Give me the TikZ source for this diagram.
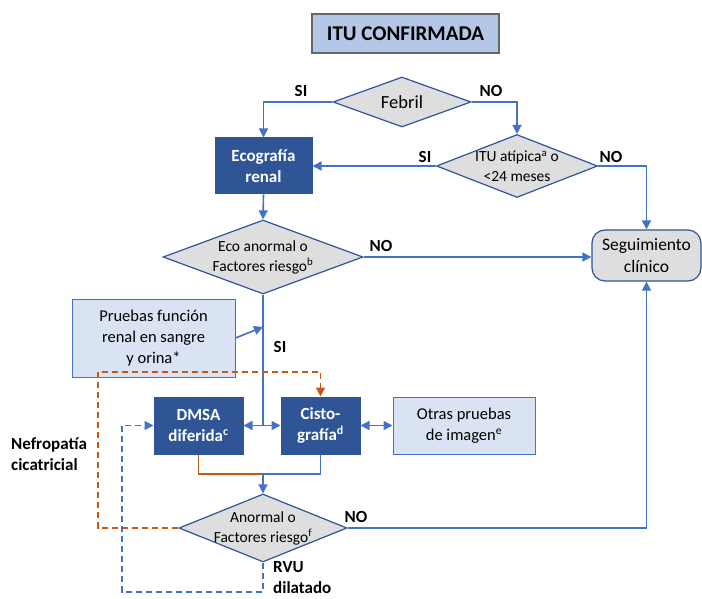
\documentclass[tikz,border=0pt]{standalone}
\usepackage{fontspec}
\setmainfont{Carlito}
\usetikzlibrary{arrows.meta,shapes.geometric}
\definecolor{dblue}{HTML}{2F5597}
\definecolor{lblue}{HTML}{4472C4}
\definecolor{pale}{HTML}{DAE3F3}
\definecolor{tfill}{HTML}{B4C7E7}
\definecolor{dgray}{HTML}{DEDEDE}
\definecolor{orng}{HTML}{C55A11}
\tikzset{
  x=1pt,y=-1pt,
  darkbox/.style={draw=dblue,fill=dblue,text=white,font=\fontsize{17}{21}\selectfont\bfseries,align=center,inner sep=0pt,line width=1pt},
  palebox/.style={draw=lblue,fill=pale,font=\fontsize{16.5}{21}\selectfont,align=center,inner sep=0pt,line width=1pt},
  dia/.style={shape=diamond,draw=dblue,fill=dgray,line width=1.2pt,inner sep=0pt},
  dtext/.style={font=\fontsize{15.5}{20}\selectfont,align=center,inner sep=0pt},
  lab/.style={font=\fontsize{17}{21}\selectfont\bfseries,inner sep=0pt},
  conn/.style={draw=lblue,line width=1.6pt},
  arr/.style={conn,-{Triangle[length=9pt,width=9pt]}},
  darr/.style={conn,{Triangle[length=9pt,width=9pt]}-{Triangle[length=9pt,width=9pt]}},
  odash/.style={draw=orng,line width=1.5pt,dash pattern=on 6pt off 4pt},
  bdash/.style={draw=lblue,line width=1.5pt,dash pattern=on 6pt off 4pt},
}
\begin{document}
\begin{tikzpicture}
\useasboundingbox (0,0) rectangle (702,599);
\fill[white] (0,0) rectangle (702,599);
% nodes
\node[draw=gray!80!black,fill=tfill,line width=1.2pt,minimum width=187pt,minimum height=39pt,inner sep=0pt,font=\fontsize{21}{24}\selectfont\bfseries] (title) at (405.5,33.5) {ITU CONFIRMADA};
\node[dia,minimum width=138pt,minimum height=50pt] (feb) at (402,102) {};
\node[font=\fontsize{18.5}{22}\selectfont,inner sep=0pt] at (feb) {Febril};
\node[darkbox,minimum width=97pt,minimum height=56pt] (eco) at (263.5,166) {Ecografía\\renal};
\node[dia,minimum width=161pt,minimum height=63pt] (itu) at (517,166) {};
\node[dtext] at (itu) {ITU atípica\textsuperscript{a} o\\<24 meses};
\node[draw=dblue,fill=dgray,rounded corners=13pt,line width=1.2pt,minimum width=109pt,minimum height=51pt,inner sep=0pt,align=center,font=\fontsize{17.5}{22}\selectfont] (seg) at (646.5,255.5) {Seguimiento\\clínico};
\node[dia,minimum width=200pt,minimum height=74pt] (eco2) at (263,257) {};
\node[dtext] at (eco2) {Eco anormal o\\Factores riesgo\textsuperscript{b}};
\node[palebox,minimum width=163pt,minimum height=78pt] (pr) at (153.5,338) {Pruebas función\\renal en sangre\\y orina*};
\node[darkbox,minimum width=89pt,minimum height=57pt] (dmsa) at (198.5,425.5) {DMSA\\diferida\textsuperscript{c}};
\node[darkbox,minimum width=79pt,minimum height=57pt] (cis) at (320.5,425.5) {Cisto-\\grafía\textsuperscript{d}};
\node[palebox,minimum width=142pt,minimum height=57pt] (otr) at (464,425.5) {Otras pruebas\\de imagen\textsuperscript{e}};
\node[dia,minimum width=168pt,minimum height=68pt] (anor) at (263,528) {};
\node[dtext] at (anor) {Anormal o\\Factores riesgo\textsuperscript{f}};
% labels
\node[lab] at (301,91) {SI};
\node[lab] at (491,91) {NO};
\node[lab] at (425,157) {SI};
\node[lab] at (611,157) {NO};
\node[lab] at (381,246) {NO};
\node[lab] at (280,347) {SI};
\node[lab] at (356,517) {NO};
\node[lab,align=left,anchor=west] at (11,454) {Nefropatía\\cicatricial};
\node[lab,align=left,anchor=west] at (273,578) {RVU\\dilatado};
% coordinates
\coordinate (pin) at (263,327);
\coordinate (jn) at (263,426);
\coordinate (mg) at (263,474);
\coordinate (oc) at (98,372);
\coordinate (bc) at (122,592);
% connectors
\draw[arr] (feb.west) -| (eco.north);
\draw[arr] (feb.east) -| (itu.north);
\draw[arr] (itu.west) -- (eco.east);
\draw[arr] (itu.east) -| (seg.north);
\draw[arr] (eco.south) -- (eco2.north);
\draw[arr] (eco2.east) -- (eco2.east -| seg.west);
\draw[conn] (eco2.south) -- (jn);
\draw[arr] (pr.east) -- (pin);
\draw[darr] (dmsa.east) -- (cis.west);
\draw[darr] (cis.east) -- (otr.west);
\draw[draw=orng,line width=1.6pt] (dmsa.south) |- (mg);
\draw[conn] (cis.south) |- (mg);
\draw[arr] (mg) -- (anor.north);
\draw[arr] (anor.east) -| (seg.south);
\draw[odash,-{Triangle[length=9pt,width=9pt]}] (anor.west) -| (oc) -| (cis.north);
\draw[bdash,-{Triangle[length=9pt,width=9pt]}] (anor.south) |- (bc) |- (dmsa.west);
\end{tikzpicture}
\end{document}
